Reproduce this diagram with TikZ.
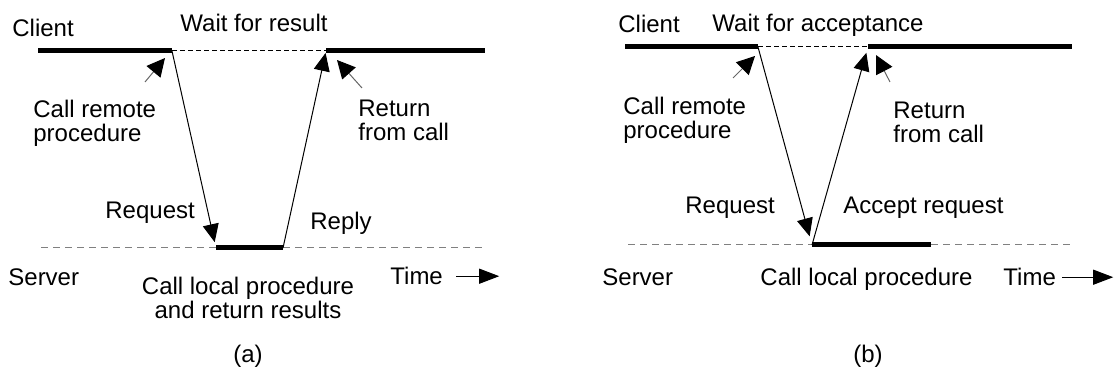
\documentclass[tikz,border=0pt]{standalone}
\usepackage{fontspec}
\setmainfont{Liberation Sans}
\usetikzlibrary{arrows.meta}

\tikzset{
	lbl/.style={inner sep=0pt, font=\fontsize{12}{12}\selectfont, align=left},
	busy/.style={line width=2.5pt},
	waiting/.style={line width=0.5pt, dash pattern=on 2.5pt off 1.5pt},
	idle/.style={line width=0.5pt, gray, dash pattern=on 3.5pt off 2.5pt},
	msg/.style={line width=0.5pt, -{Triangle[length=9pt, width=8pt]}},
	hint/.style={line width=0.5pt, black!60, -{Triangle[length=9pt, width=9pt, black]}},
	timearrow/.style={line width=0.5pt, -{Triangle[length=10pt, width=7.5pt]}}
}

\begin{document}
\begin{tikzpicture}[x=0.5pt, y=-0.5pt]
		\useasboundingbox (0, 0) rectangle (1115, 373);
		% (a) synchronous call
		\coordinate(CA1) at (38, 51);
		\coordinate(CA2) at (172, 51);
		\coordinate(CA3) at (326, 51);
		\coordinate(CA4) at (485, 51);
		\coordinate(SA1) at (41, 248);
		\coordinate(SA2) at (216, 248);
		\coordinate(SA3) at (283, 248);
		\coordinate(SA4) at (485, 248);
		\draw[busy] (CA1)--(CA2);
		\draw[waiting] (CA2)--(CA3);
		\draw[busy] (CA3)--(CA4);
		\draw[idle] (SA1)--(SA2);
		\draw[busy] (SA2)--(SA3);
		\draw[idle] (SA3)--(SA4);
		\draw[msg, shorten >=3pt] (CA2)--(SA2);
		\draw[msg, shorten >=1pt] (SA3)--(CA3);
		\node(clientA) at (12, 36.5)[lbl, anchor=base west]{Client};
		\node(waitA) at (254, 32)[lbl, anchor=base]{Wait for result};
		\node(callA) at (33, 100)[lbl, anchor=north west]{Call remote\\procedure};
		\node(retA) at (358, 100)[lbl, anchor=north west]{Return\\from call};
		\node(reqA) at (105, 201.5)[lbl, anchor=north west]{Request};
		\node(replyA) at (310, 211.5)[lbl, anchor=north west]{Reply};
		\node(serverA) at (8, 268)[lbl, anchor=north west]{Server};
		\node(localA) at (248, 276.5)[lbl, anchor=north, align=center]{Call local procedure\\and return results};
		\node(timeA) at (390, 267)[lbl, anchor=north west]{Time};
		\node(capA) at (248, 356)[lbl]{(a)};
		\coordinate(HA1) at (145, 82);
		\coordinate(HA2) at (165, 58);
		\coordinate(HA3) at (362, 88);
		\coordinate(HA4) at (337, 60);
		\draw[hint] (HA1)--(HA2);
		\draw[hint] (HA3)--(HA4);
		\draw[timearrow] ([xshift=6.5pt]timeA.east)--([xshift=28pt]timeA.east);
		% (b) asynchronous call
		\coordinate(CB1) at (625, 47);
		\coordinate(CB2) at (758, 47);
		\coordinate(CB3) at (868, 47);
		\coordinate(CB4) at (1072, 47);
		\coordinate(SB1) at (628, 245);
		\coordinate(SB2) at (812, 245);
		\coordinate(SB3) at (931, 245);
		\coordinate(SB4) at (1070, 245);
		\draw[busy] (CB1)--(CB2);
		\draw[waiting] (CB2)--(CB3);
		\draw[busy] (CB3)--(CB4);
		\draw[idle] (SB1)--(SB2);
		\draw[busy] (SB2)--(SB3);
		\draw[idle] (SB3)--(SB4);
		\draw[msg, shorten >=4.5pt] (CB2)--(SB2);
		\draw[msg, shorten >=3pt] (SB2)--(CB3);
		\node(clientB) at (618, 33)[lbl, anchor=base west]{Client};
		\node(waitB) at (712, 32)[lbl, anchor=base west]{Wait for acceptance};
		\node(callB) at (623, 96.5)[lbl, anchor=north west]{Call remote\\procedure};
		\node(retB) at (893, 101.5)[lbl, anchor=north west]{Return\\from call};
		\node(reqB) at (685, 196.5)[lbl, anchor=north west]{Request};
		\node(acceptB) at (843, 196.5)[lbl, anchor=north west]{Accept request};
		\node(serverB) at (602, 268)[lbl, anchor=north west]{Server};
		\node(localB) at (866.5, 268)[lbl, anchor=north]{Call local procedure};
		\node(timeB) at (1003, 268)[lbl, anchor=north west]{Time};
		\node(capB) at (868, 356)[lbl]{(b)};
		\coordinate(HB1) at (733, 78);
		\coordinate(HB2) at (755, 56);
		\coordinate(HB3) at (890, 82);
		\coordinate(HB4) at (876, 55);
		\draw[hint] (HB1)--(HB2);
		\draw[hint] (HB3)--(HB4);
		\draw[timearrow] ([xshift=3pt]timeB.east)--([xshift=28.5pt]timeB.east);
\end{tikzpicture}
\end{document}
